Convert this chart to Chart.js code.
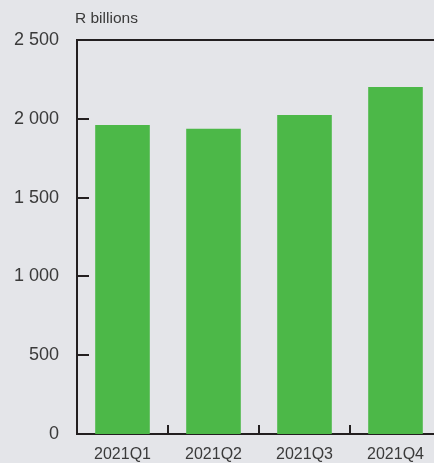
<!DOCTYPE html>
<html>
<head>
<meta charset="utf-8">
<script src="https://cdn.jsdelivr.net/npm/chart.js@4/dist/chart.umd.min.js"></script>
<style>
  html, body { margin:0; padding:0; background:#e4e5e9; overflow:hidden; }
  #wrap { position:relative; width:441px; height:463px; }
</style>
</head>
<body>
<div id="wrap"><canvas id="c" width="441" height="463"></canvas></div>
<script>
const categories = ["2021Q1", "2021Q2", "2021Q3", "2021Q4"];
const values = [1961, 1937, 2024, 2202];
const yTicks = [0, 500, 1000, 1500, 2000, 2500];
const unitLabel = "R billions";

const INK = "#231f20";
const TXT = "#3a3a3a";
const FONT = "'Liberation Sans', Arial, sans-serif";

function fmt(v) {
  return String(v).replace(/\B(?=(\d{3})+(?!\d))/g, " ");
}

const decor = {
  id: "decor",
  afterDraw(chart) {
    const ctx = chart.ctx;
    const a = chart.chartArea;
    const ys = chart.scales.y, xs = chart.scales.x;
    ctx.save();
    ctx.strokeStyle = INK;
    ctx.lineWidth = 2;
    // top border line
    ctx.beginPath();
    ctx.moveTo(a.left - 1, ys.getPixelForValue(yTicks[yTicks.length - 1]));
    ctx.lineTo(a.right + 5, ys.getPixelForValue(yTicks[yTicks.length - 1]));
    ctx.stroke();
    // inner y ticks
    yTicks.slice(1, -1).forEach(v => {
      const y = Math.round(ys.getPixelForValue(v));
      ctx.beginPath();
      ctx.moveTo(a.left, y);
      ctx.lineTo(a.left + 12, y);
      ctx.stroke();
    });
    // inner x ticks at category boundaries
    for (let i = 0; i < categories.length - 1; i++) {
      const x = Math.round((xs.getPixelForValue(i) + xs.getPixelForValue(i + 1)) / 2);
      ctx.beginPath();
      ctx.moveTo(x, a.bottom);
      ctx.lineTo(x, a.bottom - 9);
      ctx.stroke();
    }
    // unit label
    ctx.fillStyle = TXT;
    ctx.font = "15.5px " + FONT;
    ctx.textAlign = "left";
    ctx.textBaseline = "middle";
    ctx.fillText(unitLabel, a.left - 2, 19);
    ctx.restore();
  }
};

new Chart(document.getElementById("c"), {
  type: "bar",
  data: {
    labels: categories,
    datasets: [{
      data: values,
      backgroundColor: "#4cb848",
      borderWidth: 0,
      barPercentage: 0.6,
      categoryPercentage: 1.0
    }]
  },
  options: {
    responsive: false,
    animation: false,
    devicePixelRatio: 1,
    layout: { padding: { top: 40, left: 0, right: 0, bottom: 0 } },
    plugins: { legend: { display: false }, tooltip: { enabled: false } },
    scales: {
      x: {
        grid: { display: false, drawTicks: false },
        border: { display: true, color: INK, width: 2 },
        ticks: { color: TXT, font: { family: FONT, size: 16 }, padding: 11, maxRotation: 0 },
        afterFit(s) { s.height = 29; }
      },
      y: {
        min: 0, max: 2500,
        afterBuildTicks(s) { s.ticks = yTicks.map(v => ({ value: v })); },
        grid: { display: false, drawTicks: false },
        border: { display: true, color: INK, width: 2 },
        ticks: {
          color: TXT, font: { family: FONT, size: 18 }, padding: 18,
          callback: v => fmt(v)
        },
        afterFit(s) { s.width = 77; }
      }
    }
  },
  plugins: [decor]
});
</script>
</body>
</html>
